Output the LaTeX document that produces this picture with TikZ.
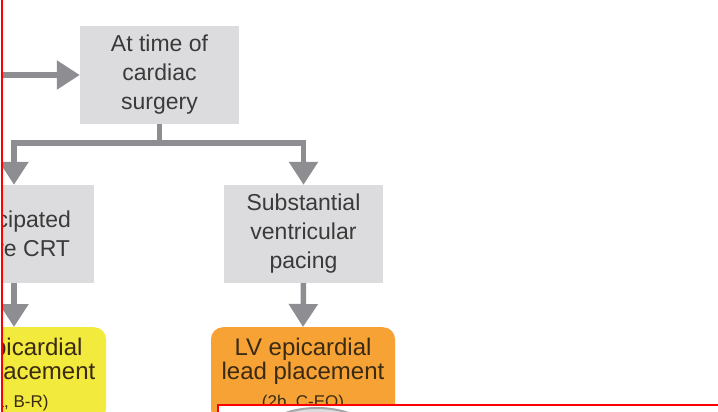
\documentclass[tikz,border=0pt]{standalone}
\usepackage{fontspec}
\setmainfont{Liberation Sans}
\usetikzlibrary{arrows.meta}
\definecolor{boxgray}{HTML}{DCDCDE}
\definecolor{linegray}{HTML}{8E8E92}
\definecolor{txtgray}{HTML}{3A3A3A}
\definecolor{txtbrown}{HTML}{3A2A14}
\definecolor{recyellow}{HTML}{F2EA3C}
\definecolor{recorange}{HTML}{F6A234}
\definecolor{markred}{HTML}{FF0000}
\begin{document}
\begin{tikzpicture}[x=1pt,y=-1pt,
  situation/.style={fill=boxgray,text=txtgray,minimum width=159pt,minimum height=98pt,
    align=center,font=\fontsize{23}{29}\selectfont},
  advice/.style={rounded corners=12pt,text=txtbrown,minimum width=184pt,inner ysep=10.5pt,
    anchor=north,align=center,font=\fontsize{24}{24}\selectfont},
  conn/.style={draw=linegray,line width=5.5pt,-{Triangle[length=23pt,width=28pt]}},
  small/.style={font=\fontsize{17}{17}\selectfont}]
\useasboundingbox (0,0) rectangle (718,412);
\begin{scope}
\clip (3,0) rectangle (718,412);
% gray boxes
\node[situation] (surgery) at (159.5,75) {At time of\\cardiac\\surgery};
\node[situation] (cand) at (14,234) {Anticipated\\future CRT};
\node[situation] (pacing) at (303.5,234) {Substantial\\ventricular\\pacing};
% recommendations
\node[advice,fill=recyellow] (yellow) at (14,327)
  {LV epicardial\\lead placement\\[4pt]{\fontsize{17}{17}\selectfont (2a, B-R)}};
\node[advice,fill=recorange] (orange) at (303,327)
  {LV epicardial\\lead placement\\[4pt]{\fontsize{17}{17}\selectfont (2b, C-EO)}};
% arrows
\coordinate (in) at (-20,75);
\draw[conn] (in) -- (surgery.west);
\draw[conn] (surgery.south) -- (159.5,143) -| (cand.north);
\draw[conn] (surgery.south) -- (159.5,143) -| (pacing.north);
\draw[conn] (cand.south) -- (yellow.north);
\draw[conn] (pacing.south) -- (orange.north);
\end{scope}
% red marks
\draw[markred,line width=1.5pt] (2,-5) -- (2,420);
\draw[markred,line width=1.5pt,fill=white] (218,405) rectangle (730,430);
\begin{scope}
\clip (219,406) rectangle (718,412);
\draw[fill=boxgray,draw=linegray!80,line width=2pt] (317,440) ellipse [x radius=59pt,y radius=32pt];
\end{scope}
\end{tikzpicture}
\end{document}
